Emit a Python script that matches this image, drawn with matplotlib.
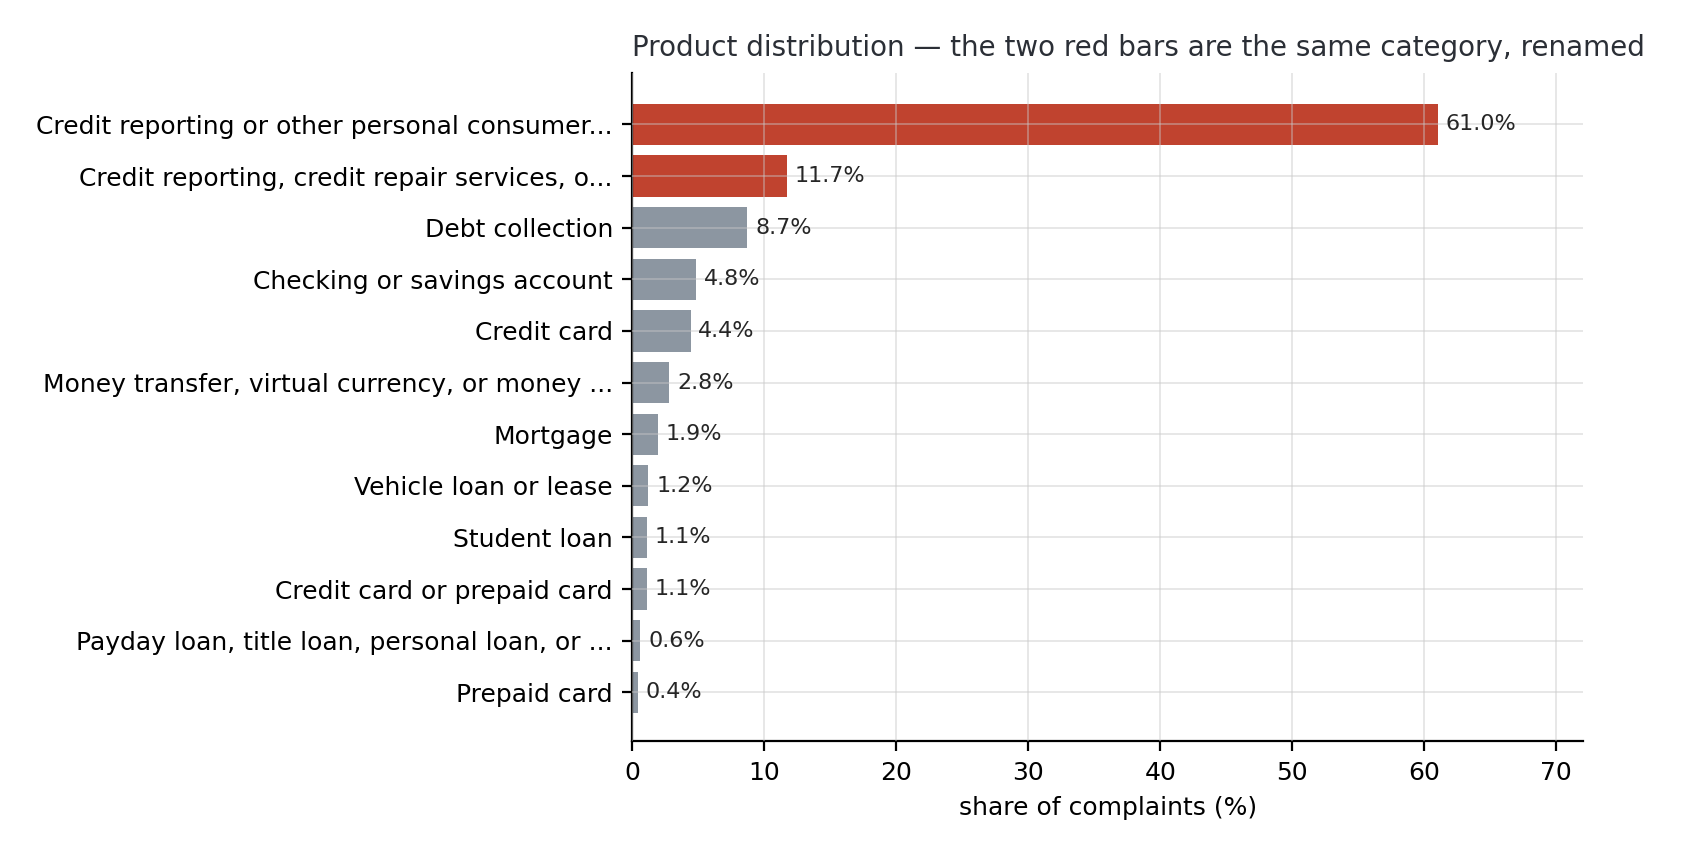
import matplotlib
matplotlib.use("Agg")
import matplotlib.pyplot as plt

# product categories (already truncated as shown) and share of complaints (%)
products = [
    "Credit reporting or other personal consumer...",
    "Credit reporting, credit repair services, o...",
    "Debt collection",
    "Checking or savings account",
    "Credit card",
    "Money transfer, virtual currency, or money ...",
    "Mortgage",
    "Vehicle loan or lease",
    "Student loan",
    "Credit card or prepaid card",
    "Payday loan, title loan, personal loan, or ...",
    "Prepaid card",
]
share = [61.0, 11.7, 8.7, 4.8, 4.4, 2.8, 1.9, 1.2, 1.1, 1.1, 0.6, 0.4]
renamed = [True, True] + [False] * 10

red = "#c0432f"
grey = "#8c96a1"
colors = [red if r else grey for r in renamed]

fig, ax = plt.subplots(figsize=(8.41, 4.285), dpi=200)
fig.subplots_adjust(left=0.376, right=0.941, top=0.915, bottom=0.135)

ypos = list(range(len(products)))
bars = ax.barh(ypos, share, height=0.8, color=colors)

for y, v in zip(ypos, share):
    ax.text(v + 0.6, y, f"{v:.1f}%", va="center", ha="left", fontsize=8, color="#262626")

ax.set_yticks(ypos)
ax.set_yticklabels(products)
ax.set_ylim(len(products) - 0.05, -1)
ax.set_xlim(0, 72)
ax.set_xticks(range(0, 71, 10))
ax.tick_params(labelsize=9)

ax.grid(True, color="#c8c8c8", linewidth=0.6, alpha=0.5)
ax.set_axisbelow(False)
for s in ["top", "right"]:
    ax.spines[s].set_visible(False)

ax.set_xlabel("share of complaints (%)", fontsize=9)
ax.set_title("Product distribution \u2014 the two red bars are the same category, renamed",
             loc="left", fontsize=10, color="#2b2f36")

fig.savefig("out.png", dpi=200)
